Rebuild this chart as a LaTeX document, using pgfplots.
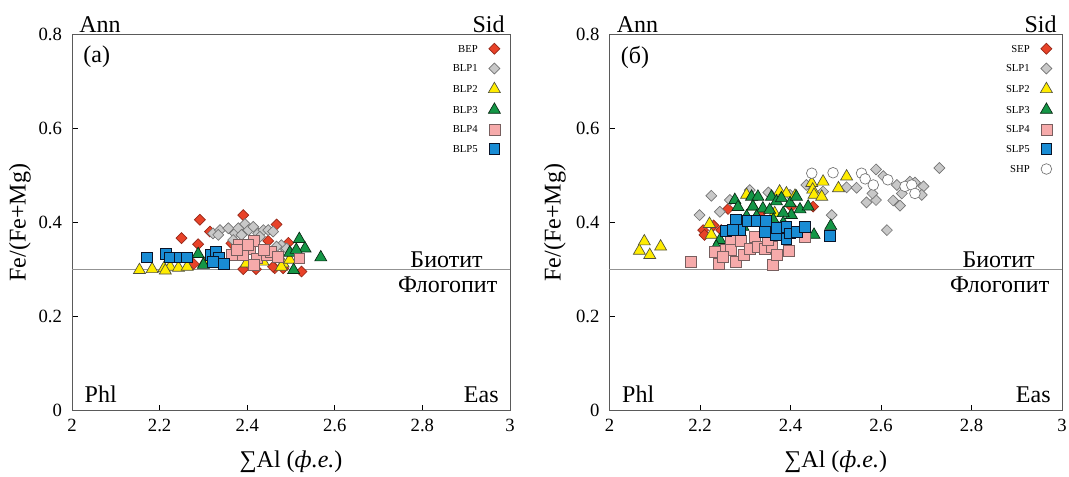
\documentclass[border=0pt]{standalone}
\usepackage{fontspec}
\setmainfont{Liberation Serif}
\usepackage{pgfplots}
\pgfplotsset{compat=1.18}

\definecolor{cRed}{RGB}{232,66,40}
\definecolor{cRedE}{RGB}{150,40,25}
\definecolor{cGrey}{RGB}{200,200,200}
\definecolor{cGreyE}{RGB}{115,115,115}
\definecolor{cYel}{RGB}{255,236,0}
\definecolor{cYelE}{RGB}{80,80,60}
\definecolor{cGrn}{RGB}{20,150,70}
\definecolor{cGrnE}{RGB}{10,40,20}
\definecolor{cPink}{RGB}{246,170,170}
\definecolor{cPinkE}{RGB}{120,95,95}
\definecolor{cBlue}{RGB}{25,140,212}
\definecolor{cBlueE}{RGB}{10,20,40}
\definecolor{cAx}{RGB}{90,90,90}

\pgfplotsset{
  panel/.style={
    scale only axis, anchor=south west, height=282.2pt,
    xmin=2, xmax=3, ymin=0, ymax=0.8, clip=false,
    xtick={2,2.2,2.4,2.6,2.8,3}, ytick={0,0.2,0.4,0.6,0.8},
    tick align=inside, tick pos=left, major tick length=4.5pt,
    axis line style={cAx, line width=0.7pt},
    tick style={black, line width=0.7pt},
    ticklabel style={font=\fontsize{14}{14}\selectfont},
    /pgf/number format/assume math mode=true,
    yticklabel style={xshift=-4pt},
    xticklabel style={yshift=-3pt},
    label style={font=\fontsize{18}{18}\selectfont},
    xlabel={∑Al (\textit{ф.е.})}, ylabel={Fe/(Fe+Mg)},
    xlabel style={at={(axis description cs:0.5,0)}, anchor=center, yshift=-38.5pt},
    legend plot pos=right, legend cell align=right,
    legend style={at={(axis description cs:1,1)}, anchor=north east,
      xshift=-7pt, yshift=-6pt, draw=none, fill=none, inner sep=0pt,
      font=\fontsize{8}{8}\selectfont, row sep=5.8pt, column sep=7pt,
      nodes={inner sep=1pt, text height=6pt, text depth=1pt}},
  },
  sEP/.style={only marks, mark=square*, mark size=2.9pt,
    mark options={rotate=45, fill=cRed, draw=cRedE, line width=0.5pt}},
  sLP1/.style={only marks, mark=square*, mark size=2.9pt,
    mark options={rotate=45, fill=cGrey, draw=cGreyE, line width=0.5pt}},
  sLP2/.style={only marks, mark=triangle*, mark size=5.2pt,
    mark options={fill=cYel, draw=cYelE, line width=0.5pt}},
  sLP3/.style={only marks, mark=triangle*, mark size=5.2pt,
    mark options={fill=cGrn, draw=cGrnE, line width=0.5pt}},
  sLP4/.style={only marks, mark=square*, mark size=4.1pt,
    mark options={fill=cPink, draw=cPinkE, line width=0.5pt}},
  sLP5/.style={only marks, mark=square*, mark size=4.1pt,
    mark options={fill=cBlue, draw=cBlueE, line width=0.6pt}},
  sHP/.style={only marks, mark=*, mark size=4pt,
    mark options={fill=white, draw=cGreyE, line width=0.5pt}},
}

\newcommand{\boundary}{%
  \addplot[draw=gray!85, line width=0.9pt, forget plot] coordinates {(2,0.3) (3,0.3)};
}
\newcommand{\corners}{%
  \node[anchor=base west, font=\fontsize{18}{18}\selectfont] at (rel axis cs:0,1) [xshift=2pt, yshift=1.5pt] {Ann};
  \node[anchor=base east, font=\fontsize{18}{18}\selectfont] at (rel axis cs:1,1) [xshift=-0.5pt, yshift=1.5pt] {Sid};
  \node[anchor=base west, font=\fontsize{18}{18}\selectfont] at (rel axis cs:0,0) [xshift=6pt, yshift=6.5pt] {Phl};
  \node[anchor=base east, font=\fontsize{18}{18}\selectfont] at (rel axis cs:1,0) [xshift=-5pt, yshift=6.5pt] {Eas};
  \node[anchor=base east, font=\fontsize{18}{18}\selectfont] at (axis cs:3,0.3) [xshift=-17pt, yshift=1.5pt] {Биотит};
  \node[anchor=base east, font=\fontsize{18}{18}\selectfont] at (axis cs:3,0.3) [xshift=-6pt, yshift=-17pt] {Флогопит};
}

\begin{document}
\begin{tikzpicture}

% (a)
\begin{axis}[panel, at={(54pt,49.7pt)}, width=328.5pt,
  ylabel style={at={(axis description cs:-0.1187,0.5)}, anchor=center},
  legend entries={BEP,BLP1,BLP2,BLP3,BLP4,BLP5}]
\boundary
\addplot[sEP] coordinates {
  (2.292,0.406) (2.391,0.416) (2.467,0.396) (2.250,0.367) (2.288,0.354)
  (2.448,0.361) (2.494,0.357) (2.278,0.312) (2.391,0.301) (2.420,0.301)
  (2.463,0.303) (2.482,0.303) (2.524,0.296) (2.315,0.381) (2.364,0.356)
  (2.459,0.306)
};
\addplot[sLP1] coordinates {
  (2.322,0.377) (2.338,0.384) (2.357,0.388) (2.372,0.377) (2.380,0.388)
  (2.395,0.397) (2.403,0.384) (2.414,0.391) (2.425,0.377) (2.437,0.384)
  (2.448,0.384) (2.459,0.381) (2.429,0.370) (2.410,0.360) (2.478,0.352)
  (2.490,0.345) (2.467,0.349) (2.334,0.374) (2.387,0.374) (2.368,0.363)
};
\addplot[sLP2] coordinates {
  (2.154,0.299) (2.183,0.301) (2.210,0.303) (2.224,0.306) (2.243,0.304)
  (2.263,0.306) (2.301,0.313) (2.307,0.317) (2.368,0.335) (2.398,0.313)
  (2.436,0.317) (2.482,0.313) (2.497,0.321) (2.478,0.306) (2.319,0.314)
  (2.213,0.298)
};
\addplot[sLP3] coordinates {
  (2.288,0.333) (2.519,0.365) (2.532,0.345) (2.497,0.336) (2.512,0.342)
  (2.568,0.326) (2.506,0.299) (2.300,0.310)
};
\addplot[sLP4] coordinates {
  (2.380,0.352) (2.364,0.331) (2.391,0.342) (2.406,0.345) (2.415,0.362)
  (2.421,0.324) (2.416,0.310) (2.444,0.331) (2.455,0.338) (2.470,0.328)
  (2.519,0.324) (2.391,0.331) (2.402,0.352) (2.437,0.342) (2.376,0.342)
};
\addplot[sLP5] coordinates {
  (2.172,0.326) (2.214,0.333) (2.224,0.326) (2.246,0.326) (2.263,0.326)
  (2.316,0.331) (2.329,0.338) (2.336,0.324) (2.346,0.313) (2.322,0.317)
};
\corners
\node[anchor=west, font=\fontsize{18}{18}\selectfont] at (rel axis cs:0,1) [xshift=5pt, yshift=-17pt] {(a)};
\end{axis}

% (б)
\begin{axis}[panel, at={(457.1pt,49.7pt)}, width=339.4pt,
  ylabel style={at={(axis description cs:-0.1205,0.5)}, anchor=center},
  legend entries={SEP,SLP1,SLP2,SLP3,SLP4,SLP5,SHP}]
\boundary
\addplot[sEP] coordinates {
  (2.207,0.384) (2.210,0.374) (2.230,0.394) (2.262,0.429) (2.336,0.423)
  (2.402,0.434) (2.450,0.434) (2.247,0.384)
};
\addplot[sLP1] coordinates {
  (2.199,0.416) (2.225,0.457) (2.244,0.423) (2.310,0.469) (2.351,0.464)
  (2.491,0.416) (2.524,0.475) (2.546,0.474) (2.568,0.443) (2.589,0.513)
  (2.589,0.448) (2.581,0.462) (2.605,0.499) (2.613,0.384) (2.627,0.447)
  (2.642,0.436) (2.646,0.462) (2.635,0.480) (2.664,0.487) (2.675,0.485)
  (2.694,0.477) (2.690,0.459) (2.729,0.516) (2.472,0.466) (2.435,0.480)
  (2.399,0.459) (2.266,0.448)
};
\addplot[sLP2] coordinates {
  (2.066,0.340) (2.077,0.360) (2.089,0.331) (2.113,0.349) (2.221,0.397)
  (2.225,0.374) (2.303,0.459) (2.376,0.466) (2.391,0.462) (2.410,0.457)
  (2.447,0.484) (2.449,0.470) (2.452,0.459) (2.472,0.487) (2.469,0.455)
  (2.506,0.473) (2.524,0.498) (2.365,0.420) (2.317,0.434)
};
\addplot[sLP3] coordinates {
  (2.277,0.448) (2.284,0.433) (2.314,0.455) (2.328,0.455) (2.317,0.434)
  (2.339,0.430) (2.358,0.455) (2.369,0.445) (2.380,0.452) (2.399,0.441)
  (2.413,0.455) (2.421,0.428) (2.439,0.434) (2.402,0.416) (2.354,0.427)
  (2.384,0.420) (2.325,0.413) (2.295,0.391) (2.273,0.377) (2.244,0.363)
  (2.236,0.349) (2.452,0.374) (2.489,0.393) (2.362,0.406) (2.384,0.399)
  (2.303,0.413)
};
\addplot[sLP4] coordinates {
  (2.179,0.316) (2.232,0.337) (2.242,0.313) (2.258,0.342) (2.269,0.363)
  (2.269,0.342) (2.280,0.317) (2.291,0.362) (2.296,0.331) (2.310,0.345)
  (2.321,0.369) (2.328,0.349) (2.343,0.345) (2.358,0.349) (2.362,0.310)
  (2.369,0.331) (2.397,0.340) (2.432,0.370) (2.350,0.363) (2.250,0.328)
};
\addplot[sLP5] coordinates {
  (2.258,0.383) (2.279,0.406) (2.289,0.384) (2.306,0.404) (2.325,0.404)
  (2.345,0.404) (2.343,0.381) (2.367,0.374) (2.369,0.388) (2.391,0.391)
  (2.391,0.365) (2.399,0.377) (2.415,0.381) (2.432,0.391) (2.487,0.372)
  (2.273,0.384)
};
\addplot[sHP] coordinates {
  (2.447,0.505) (2.494,0.506) (2.557,0.505) (2.565,0.493) (2.583,0.480)
  (2.615,0.491) (2.653,0.477) (2.668,0.480) (2.675,0.462)
};
\corners
\node[anchor=west, font=\fontsize{18}{18}\selectfont] at (rel axis cs:0,1) [xshift=5pt, yshift=-17pt] {(б)};
\end{axis}

\pgfresetboundingbox
\useasboundingbox (0,0) rectangle (801.75pt,357.75pt);
\end{tikzpicture}
\end{document}
